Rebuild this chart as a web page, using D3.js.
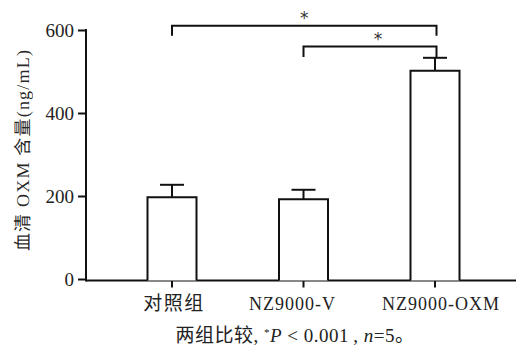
<!DOCTYPE html>
<html><head><meta charset="utf-8">
<script src="https://cdn.jsdelivr.net/npm/d3@7"></script>
<style>
html,body{margin:0;padding:0;background:#fff;}
svg{display:block;}
</style></head>
<body>
<svg id="c" width="517" height="348"></svg>
<script>
const categories = ["对照组", "NZ9000-V", "NZ9000-OXM"];
const means = [197, 192, 502];
const errors = [30, 23, 31];
const yTicks = [0, 200, 400, 600];
const brackets = [
  {from: 0, to: 2, level: 610, leftEnd: 586, rightEnd: 586},
  {from: 1, to: 2, level: 560, leftEnd: 535, rightEnd: 533}
];
const yLabel = "血清 OXM 含量(ng/mL)";

const FONT = '"Liberation Serif", "Noto Sans CJK SC", serif';
const svg = d3.select("#c");
const y = d3.scaleLinear().domain([0, 600]).range([279, 30]);
const x = d3.scalePoint().domain(categories).range([172, 435]);
const barW = 49, capW = 24;
const axisX = 86, axisY = 280.5;

// y axis
const ya = svg.append("g").attr("transform", `translate(${axisX},0)`)
  .call(d3.axisLeft(y).tickValues(yTicks).tickSize(8).tickPadding(4));
ya.select(".domain").remove();
ya.selectAll(".tick line").attr("stroke", "#111").attr("stroke-width", 2);
ya.selectAll(".tick text").style("font-size", "19px").style("font-family", FONT)
  .attr("fill", "#222").attr("dy", "0.36em");
svg.append("line").attr("x1", axisX).attr("x2", axisX).attr("y1", y(600) - 1).attr("y2", axisY + 1)
  .attr("stroke", "#111").attr("stroke-width", 2);

// x axis
svg.append("line").attr("x1", axisX).attr("x2", 516).attr("y1", axisY).attr("y2", axisY)
  .attr("stroke", "#111").attr("stroke-width", 2);
svg.selectAll(".xt").data(categories).enter().append("line")
  .attr("x1", d => x(d)).attr("x2", d => x(d)).attr("y1", axisY).attr("y2", axisY + 7)
  .attr("stroke", "#111").attr("stroke-width", 2);
const labelDx = [2, -11, 6];
svg.selectAll(".xl").data(categories).enter().append("text")
  .attr("x", (d, i) => x(d) + labelDx[i]).attr("y", 310).attr("text-anchor", "middle")
  .attr("fill", "#222")
  .style("font-family", FONT)
  .style("font-size", d => /[\u4e00-\u9fff]/.test(d) ? "19px" : "18px")
  .style("letter-spacing", d => /[\u4e00-\u9fff]/.test(d) ? "1.5px" : "1px")
  .text(d => d);

// error bars (behind bars)
categories.forEach((c, i) => {
  const cx = x(c);
  svg.append("line").attr("x1", cx).attr("x2", cx).attr("y1", y(means[i])).attr("y2", y(means[i] + errors[i]))
    .attr("stroke", "#111").attr("stroke-width", 2);
  svg.append("line").attr("x1", cx - capW / 2).attr("x2", cx + capW / 2)
    .attr("y1", y(means[i] + errors[i])).attr("y2", y(means[i] + errors[i]))
    .attr("stroke", "#111").attr("stroke-width", 2);
});

// bars
svg.selectAll(".bar").data(categories).enter().append("path")
  .attr("d", (d, i) => {
    const x0 = x(d) - barW / 2, x1 = x(d) + barW / 2;
    return `M${x0},${axisY}V${y(means[i])}H${x1}V${axisY}`;
  })
  .attr("fill", "#fff").attr("stroke", "#111").attr("stroke-width", 2);

// significance brackets
const starDx = [0, 8];
brackets.forEach((b, k) => {
  const xa = x(categories[b.from]), xb = x(categories[b.to]) + 1.5;
  svg.append("path")
    .attr("d", `M${xa},${y(b.leftEnd)}V${y(b.level)}H${xb}V${y(b.rightEnd)}`)
    .attr("fill", "none").attr("stroke", "#111").attr("stroke-width", 2);
  svg.append("text").attr("x", (xa + xb) / 2 + starDx[k]).attr("y", y(b.level) - 2)
    .attr("text-anchor", "middle").attr("fill", "#333")
    .style("font-family", '"DejaVu Sans"').style("font-size", "17px")
    .text("*");
});

// y label
svg.append("g").attr("opacity", 0.999)
  .append("text").attr("transform", "translate(29,150) rotate(-90)")
  .attr("text-anchor", "middle").attr("fill", "#222").attr("fill-opacity", 0.99)
  .style("text-rendering", "geometricPrecision")
  .style("font-family", FONT).style("font-size", "18px")
  .style("letter-spacing", "1.2px")
  .text(yLabel);

// caption
const cap = svg.append("text").attr("x", 295).attr("y", 342).attr("text-anchor", "middle")
  .attr("fill", "#222").style("font-family", FONT).style("font-size", "19px")
  .style("letter-spacing", "0.5px");
cap.append("tspan").text("两组比较, ");
cap.append("tspan").style("font-size", "11px").attr("dy", -6).text("*");
cap.append("tspan").attr("dy", 6).style("font-style", "italic").text("P");
cap.append("tspan").text(" < 0.001\u2009, ");
cap.append("tspan").style("font-style", "italic").text("n");
cap.append("tspan").text("=5。");
</script>
</body></html>
